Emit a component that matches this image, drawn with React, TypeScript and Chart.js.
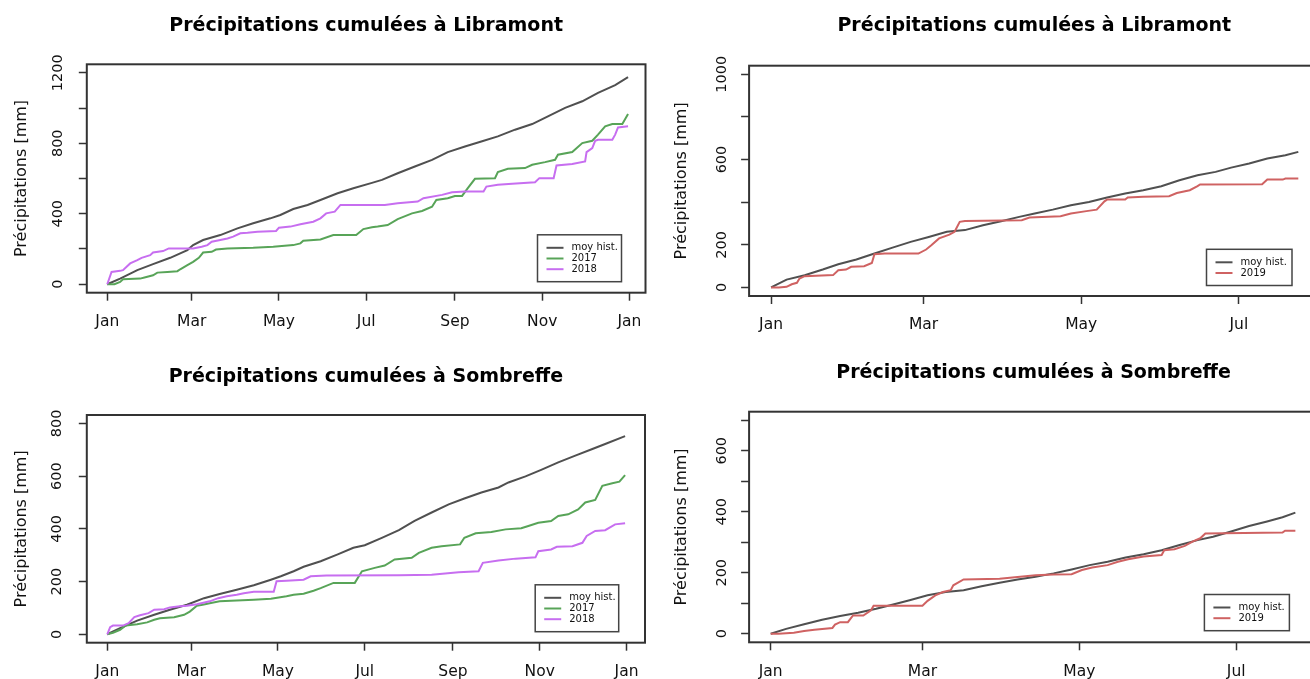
import React, { useEffect, useRef } from "react";
import { Chart, registerables } from "chart.js";

Chart.register(...registerables);

const FONT = '"DejaVu Sans", "Liberation Sans", sans-serif';

// ---------- axis ticks ----------
const yearTickDays = [0, 59, 120, 181, 243, 304, 365];
const yearTickLabels = ["Jan", "Mar", "May", "Jul", "Sep", "Nov", "Jan"];
const halfTickDays = [0, 59, 120, 181];
const halfTickLabels = ["Jan", "Mar", "May", "Jul"];

const libYearYTicks = [0, 200, 400, 600, 800, 1000, 1200];
const libYearYLabels = [0, 400, 800, 1200];
const libHalfYTicks = [0, 200, 400, 600, 800, 1000];
const libHalfYLabels = [0, 200, 600, 1000];
const somYearYTicks = [0, 200, 400, 600, 800];
const somYearYLabels = [0, 200, 400, 600, 800];
const somHalfYTicks = [0, 100, 200, 300, 400, 500, 600, 700];
const somHalfYLabels = [0, 200, 400, 600];

// ---------- Libramont, full year ----------
const libHistDays = [0, 9, 21, 32, 44, 56, 60, 67, 79, 91, 102, 114, 121, 130, 140, 149, 161, 172, 185, 192, 203, 215, 227, 238, 250, 262, 273, 285, 297, 308, 320, 332, 343, 355, 364];
const libHistVals = [0, 32, 80, 114, 150, 194, 222, 251, 279, 317, 346, 374, 393, 427, 450, 478, 516, 545, 575, 592, 630, 668, 706, 750, 782, 811, 839, 877, 909, 953, 1001, 1038, 1086, 1130, 1175];

const lib2017Days = [0, 5, 9, 11, 23, 26, 32, 35, 42, 49, 51, 56, 60, 64, 67, 73, 76, 84, 102, 116, 130, 135, 137, 149, 158, 174, 179, 185, 189, 196, 203, 213, 220, 227, 230, 238, 243, 248, 252, 257, 271, 273, 280, 292, 297, 306, 313, 315, 325, 332, 339, 343, 348, 353, 360, 364];
const lib2017Vals = [0, 0, 13, 28, 32, 38, 51, 66, 70, 74, 85, 108, 127, 150, 180, 184, 197, 203, 207, 213, 222, 232, 247, 254, 279, 279, 313, 323, 327, 336, 370, 402, 416, 440, 478, 488, 501, 501, 545, 598, 602, 636, 655, 659, 678, 693, 706, 735, 750, 801, 814, 849, 896, 909, 909, 966];

const lib2018Days = [0, 3, 9, 11, 16, 21, 24, 30, 32, 39, 43, 60, 66, 70, 73, 79, 84, 88, 93, 98, 105, 118, 120, 128, 135, 144, 149, 153, 159, 163, 194, 203, 217, 221, 234, 241, 250, 263, 265, 273, 283, 299, 302, 312, 314, 325, 334, 335, 339, 341, 343, 353, 355, 357, 364];
const lib2018Vals = [0, 70, 76, 80, 118, 137, 150, 165, 180, 188, 203, 203, 213, 222, 241, 251, 260, 270, 289, 292, 298, 302, 321, 327, 340, 355, 374, 402, 412, 450, 450, 459, 469, 488, 507, 522, 526, 526, 554, 564, 570, 579, 602, 602, 674, 682, 697, 750, 773, 814, 820, 820, 849, 890, 896];

// ---------- Libramont, 2019 ----------
const libHist19Days = [0, 6, 13, 20, 26, 33, 40, 47, 54, 61, 68, 75, 82, 89, 96, 102, 109, 116, 123, 130, 137, 144, 151, 158, 165, 172, 178, 185, 192, 199, 204];
const libHist19Vals = [0, 37, 57, 84, 109, 131, 159, 187, 214, 237, 261, 269, 292, 311, 331, 347, 365, 386, 401, 422, 441, 456, 475, 503, 526, 542, 562, 581, 605, 620, 636];

const lib2019Days = [0, 3, 6, 8, 10, 11, 13, 24, 26, 29, 31, 36, 39, 40, 44, 57, 60, 62, 65, 69, 71, 73, 75, 97, 100, 112, 116, 122, 126, 129, 130, 137, 138, 144, 154, 157, 162, 165, 166, 190, 192, 198, 199, 204];
const lib2019Vals = [0, 0, 3, 15, 22, 42, 53, 58, 81, 84, 97, 100, 115, 156, 159, 159, 178, 198, 230, 248, 261, 308, 312, 315, 328, 334, 347, 358, 365, 404, 412, 412, 422, 425, 428, 443, 456, 475, 483, 484, 506, 506, 511, 511];

// ---------- Sombreffe, full year ----------
const somHistDays = [0, 9, 21, 33, 44, 56, 68, 79, 91, 103, 115, 122, 131, 138, 150, 162, 173, 181, 193, 205, 216, 228, 240, 251, 263, 275, 282, 294, 305, 317, 329, 341, 350, 364];
const somHistVals = [0, 23, 52, 74, 93, 112, 137, 153, 169, 186, 207, 220, 239, 256, 277, 303, 328, 338, 366, 395, 430, 462, 493, 515, 538, 557, 576, 599, 624, 652, 678, 703, 722, 752];

const som2017Days = [0, 4, 9, 13, 21, 28, 33, 37, 47, 54, 58, 63, 67, 72, 79, 91, 103, 115, 126, 131, 138, 145, 150, 159, 174, 179, 188, 195, 202, 214, 219, 228, 235, 248, 251, 259, 270, 280, 291, 296, 303, 312, 317, 324, 331, 336, 343, 348, 355, 360, 364];
const som2017Vals = [0, 6, 17, 33, 38, 45, 55, 61, 65, 74, 86, 108, 112, 118, 125, 128, 131, 135, 144, 150, 154, 165, 175, 195, 195, 239, 252, 261, 284, 290, 309, 328, 334, 341, 366, 383, 388, 398, 402, 411, 423, 430, 449, 455, 474, 500, 510, 563, 573, 579, 604];

const som2018Days = [0, 2, 4, 11, 15, 19, 23, 29, 33, 40, 44, 51, 56, 63, 66, 72, 78, 84, 91, 96, 103, 117, 119, 126, 138, 143, 154, 205, 228, 247, 261, 264, 275, 287, 301, 303, 312, 316, 327, 334, 337, 343, 350, 357, 364];
const som2018Vals = [0, 27, 33, 33, 42, 65, 72, 80, 93, 95, 102, 106, 108, 114, 118, 125, 137, 144, 150, 156, 161, 161, 201, 203, 207, 220, 223, 224, 226, 235, 239, 271, 280, 287, 292, 315, 322, 332, 334, 347, 373, 392, 395, 417, 421];

// ---------- Sombreffe, 2019 ----------
const somHist19Days = [0, 6, 13, 20, 27, 34, 41, 48, 54, 61, 68, 75, 82, 89, 96, 103, 110, 117, 124, 131, 138, 145, 152, 159, 166, 172, 179, 186, 193, 199, 204];
const somHist19Vals = [0, 16, 31, 46, 58, 69, 82, 97, 110, 126, 137, 143, 156, 167, 178, 187, 198, 211, 225, 236, 250, 261, 274, 291, 307, 318, 335, 353, 368, 382, 397];

const som2019Days = [0, 3, 9, 13, 17, 24, 25, 27, 30, 32, 36, 39, 40, 59, 61, 64, 67, 70, 71, 75, 89, 97, 103, 110, 117, 121, 125, 131, 135, 139, 145, 152, 153, 157, 161, 164, 167, 169, 199, 200, 204];
const som2019Vals = [0, 0, 3, 9, 13, 19, 30, 38, 38, 60, 60, 77, 92, 92, 108, 126, 137, 143, 159, 178, 180, 187, 192, 194, 195, 209, 217, 225, 236, 244, 253, 258, 274, 277, 288, 302, 313, 329, 332, 338, 338];

const COL_HIST = "#505050";
const COL_2017 = "#58a458";
const COL_2018 = "#c76ef0";
const COL_2019 = "#cf6262";
const TEXT = "#111";

const TICK = 8;
const TITLE_SIZE = 19;
const Y_TICK_SIZE = 14.5;

const boxLegendPlugin = {
  id: "boxLegend",
  afterDatasetsDraw(chart: any, _args: any, opts: any) {
    const { ctx, chartArea: a } = chart;
    ctx.save();
    ctx.strokeStyle = "#333";
    ctx.lineWidth = 2;
    ctx.strokeRect(a.left, a.top, a.right - a.left, a.bottom - a.top);
    const ds = chart.data.datasets;
    const rowH = 10.7;
    const h = 25.5 + (ds.length - 1) * rowH;
    const w = opts.width;
    const x0 = a.right - opts.rightGap - w;
    const y0 = a.bottom - opts.bottomGap - h;
    ctx.fillStyle = "#fff";
    ctx.fillRect(x0, y0, w, h);
    ctx.lineWidth = 1.5;
    ctx.strokeStyle = "#444";
    ctx.strokeRect(x0, y0, w, h);
    ctx.font = `10px ${FONT}`;
    ctx.textBaseline = "middle";
    ctx.textAlign = "left";
    ds.forEach((d: any, i: number) => {
      const cy = y0 + 13 + i * rowH;
      ctx.strokeStyle = d.borderColor;
      ctx.lineWidth = 2;
      ctx.beginPath();
      ctx.moveTo(x0 + 9, cy);
      ctx.lineTo(x0 + 26, cy);
      ctx.stroke();
      ctx.fillStyle = TEXT;
      ctx.fillText(d.label, x0 + 34, cy);
    });
    ctx.restore();
  },
};

const panels = [
  {
    key: "p1", left: 0, top: 0, width: 660, height: 340,
    area: { l: 86.8, t: 64.3, r: 645.5, b: 292.7 }, titleY: 26,
    title: "Précipitations cumulées à Libramont",
    xMin: -14.3, xMax: 376.2, yMin: -48, yMax: 1248,
    xTicks: yearTickDays, xLabels: yearTickLabels,
    yTicks: libYearYTicks, yLabels: libYearYLabels, yLabelOffset: 29,
    legend: { rightGap: 24, bottomGap: 11, width: 84 },
    series: [
      { label: "moy hist.", days: libHistDays, vals: libHistVals, color: COL_HIST },
      { label: "2017", days: lib2017Days, vals: lib2017Vals, color: COL_2017 },
      { label: "2018", days: lib2018Days, vals: lib2018Vals, color: COL_2018 },
    ],
  },
  {
    key: "p2", left: 660, top: 0, width: 680, height: 340,
    area: { l: 89.1, t: 65.7, r: 659.5, b: 296 }, titleY: 26,
    title: "Précipitations cumulées à Libramont",
    xMin: -8.5, xMax: 212.2, yMin: -40, yMax: 1040,
    xTicks: halfTickDays, xLabels: halfTickLabels,
    yTicks: libHalfYTicks, yLabels: libHalfYLabels, yLabelOffset: 27,
    legend: { rightGap: 27.5, bottomGap: 10.5, width: 85.5 },
    series: [
      { label: "moy hist.", days: libHist19Days, vals: libHist19Vals, color: COL_HIST },
      { label: "2019", days: lib2019Days, vals: lib2019Vals, color: COL_2019 },
    ],
  },
  {
    key: "p3", left: 0, top: 340, width: 660, height: 339,
    area: { l: 86.8, t: 75, r: 645, b: 302.7 }, titleY: 36.7,
    title: "Précipitations cumulées à Sombreffe",
    xMin: -14.4, xMax: 378, yMin: -32, yMax: 832,
    xTicks: yearTickDays, xLabels: yearTickLabels,
    yTicks: somYearYTicks, yLabels: somYearYLabels, yLabelOffset: 29.3,
    legend: { rightGap: 26.3, bottomGap: 11, width: 83.5 },
    series: [
      { label: "moy hist.", days: somHistDays, vals: somHistVals, color: COL_HIST },
      { label: "2017", days: som2017Days, vals: som2017Vals, color: COL_2017 },
      { label: "2018", days: som2018Days, vals: som2018Vals, color: COL_2018 },
    ],
  },
  {
    key: "p4", left: 660, top: 340, width: 680, height: 339,
    area: { l: 89.1, t: 71.7, r: 658, b: 302.3 }, titleY: 33.3,
    title: "Précipitations cumulées à Sombreffe",
    xMin: -8.4, xMax: 212.8, yMin: -28, yMax: 728,
    xTicks: halfTickDays, xLabels: halfTickLabels,
    yTicks: somHalfYTicks, yLabels: somHalfYLabels, yLabelOffset: 26.5,
    legend: { rightGap: 28.6, bottomGap: 11.6, width: 85 },
    series: [
      { label: "moy hist.", days: somHist19Days, vals: somHist19Vals, color: COL_HIST },
      { label: "2019", days: som2019Days, vals: som2019Vals, color: COL_2019 },
    ],
  },
];

function Panel({ cfg }: { cfg: any }) {
  const ref = useRef<HTMLCanvasElement>(null);
  useEffect(() => {
    const canvas = ref.current!;
    const a = cfg.area;
    const titleLH = TITLE_SIZE * 1.2;
    const mctx = document.createElement("canvas").getContext("2d")!;
    mctx.font = `${Y_TICK_SIZE}px ${FONT}`;
    const widest = Math.max(...cfg.yLabels.map((v: number) => mctx.measureText(String(v)).width));
    const yPad = cfg.yLabelOffset - TICK - widest / 2;
    const n = cfg.series.length;
    const chart = new Chart(canvas, {
      type: "line",
      data: {
        datasets: cfg.series.map((s: any, i: number) => ({
          label: s.label,
          data: s.days.map((d: number, j: number) => ({ x: d, y: s.vals[j] })),
          borderColor: s.color,
          backgroundColor: s.color,
          borderWidth: 2,
          pointRadius: 0,
          tension: 0,
          fill: false,
          order: n - i,
        })),
      },
      options: {
        responsive: false,
        animation: false,
        devicePixelRatio: 1,
        events: [],
        layout: { padding: { left: 0, top: 0, right: cfg.width - a.r, bottom: 0 } },
        plugins: {
          legend: { display: false },
          tooltip: { enabled: false },
          title: {
            display: true,
            text: cfg.title,
            fullSize: false,
            color: "#000",
            font: { family: FONT, size: TITLE_SIZE, weight: "bold" },
            padding: { top: cfg.titleY - titleLH / 2, bottom: a.t - cfg.titleY - titleLH / 2 },
          },
          boxLegend: cfg.legend,
        },
        scales: {
          x: {
            type: "linear",
            min: cfg.xMin,
            max: cfg.xMax,
            afterBuildTicks: (s: any) => {
              s.ticks = cfg.xTicks.map((v: number) => ({ value: v }));
            },
            afterFit: (s: any) => {
              s.height = cfg.height - a.b;
            },
            grid: { drawOnChartArea: false, drawTicks: true, tickLength: TICK, tickColor: "#333", tickWidth: 1.5 },
            border: { display: false },
            ticks: {
              autoSkip: false,
              maxRotation: 0,
              padding: 12,
              color: TEXT,
              font: { family: FONT, size: 15.5 },
              callback: (_v: any, i: number) => cfg.xLabels[i],
            },
          },
          y: {
            type: "linear",
            min: cfg.yMin,
            max: cfg.yMax,
            afterBuildTicks: (s: any) => {
              s.ticks = cfg.yTicks.map((v: number) => ({ value: v }));
            },
            afterFit: (s: any) => {
              s.width = a.l;
            },
            grid: { drawOnChartArea: false, drawTicks: true, tickLength: TICK, tickColor: "#333", tickWidth: 1.5 },
            border: { display: false },
            ticks: {
              autoSkip: false,
              minRotation: 90,
              maxRotation: 90,
              crossAlign: "center",
              padding: yPad,
              color: TEXT,
              font: { family: FONT, size: Y_TICK_SIZE },
              callback: (v: any) => (cfg.yLabels.includes(v) ? String(v) : ""),
            },
            title: {
              display: true,
              text: "Précipitations [mm]",
              color: TEXT,
              font: { family: FONT, size: 16 },
              padding: { top: 11.9, bottom: 0 },
            },
          },
        },
      },
      plugins: [boxLegendPlugin],
    } as any);
    return () => chart.destroy();
  }, [cfg]);
  return (
    <canvas
      ref={ref}
      width={cfg.width}
      height={cfg.height}
      style={{ position: "absolute", left: cfg.left, top: cfg.top, width: cfg.width, height: cfg.height }}
    />
  );
}

export default function App() {
  return (
    <div
      style={{
        position: "fixed",
        left: 0,
        top: 0,
        width: 1310,
        height: 679,
        overflow: "hidden",
        background: "#fff",
      }}
    >
      {panels.map((p) => (
        <Panel key={p.key} cfg={p} />
      ))}
    </div>
  );
}
